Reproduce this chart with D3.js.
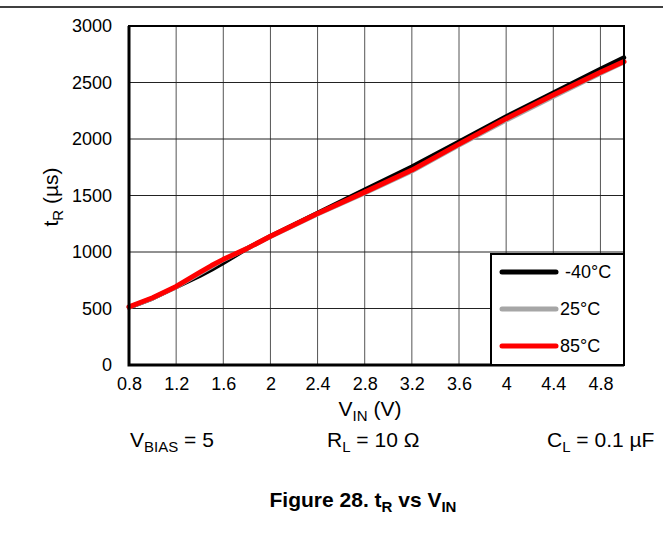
<!DOCTYPE html>
<html>
<head>
<meta charset="utf-8">
<script src="https://cdn.jsdelivr.net/npm/d3@7"></script>
<style>
  body { margin: 0; background: #fff; }
  svg { display: block; font-family: 'Liberation Sans', Arial, sans-serif; }
</style>
</head>
<body>
<svg id="chart" width="663" height="535"></svg>
<script>
// values
const vin = [0.8, 1.0, 1.2, 1.4, 1.5, 1.6, 1.8, 2.0, 2.4, 2.8, 3.2, 3.6, 4.0, 4.4, 4.8, 5.0]
const tRm40 = [510, 590, 690, 790, 845, 905, 1030, 1140, 1345, 1550, 1755, 1975, 2200, 2410, 2620, 2720]
const tR25 = [510, 590, 690, 810, 870, 930, 1030, 1135, 1335, 1520, 1715, 1945, 2165, 2375, 2580, 2680]
const tR85 = [515, 595, 695, 820, 880, 935, 1030, 1140, 1340, 1530, 1725, 1955, 2180, 2390, 2590, 2685]
const xTicks = [0.8, 1.2, 1.6, 2, 2.4, 2.8, 3.2, 3.6, 4, 4.4, 4.8]
const yTicks = [0, 500, 1000, 1500, 2000, 2500, 3000]
const seriesNames = ['-40°C', '25°C', '85°C']
const seriesColors = ['#000000', '#a6a6a6', '#ff0000']

const svg = d3.select('#chart')
const margin = {left: 129, top: 26, right: 624, bottom: 365}

const x = d3.scaleLinear().domain([0.8, 5.0]).range([margin.left, margin.right])
const y = d3.scaleLinear().domain([0, 3000]).range([margin.bottom, margin.top])

// header rule
svg.append('line')
  .attr('x1', 0).attr('x2', 663)
  .attr('y1', 7).attr('y2', 7)
  .attr('stroke', '#000').attr('stroke-width', 1.5)

// grid
svg.append('g')
  .selectAll('line')
  .data(xTicks.slice(1))
  .join('line')
  .attr('x1', (d) => x(d)).attr('x2', (d) => x(d))
  .attr('y1', margin.top).attr('y2', margin.bottom)
  .attr('stroke', '#555').attr('stroke-width', 1)

svg.append('g')
  .selectAll('line')
  .data(yTicks.slice(1, -1))
  .join('line')
  .attr('x1', margin.left).attr('x2', margin.right)
  .attr('y1', (d) => y(d)).attr('y2', (d) => y(d))
  .attr('stroke', '#222').attr('stroke-width', 1)

// axes (labels only)
const xAxis = svg.append('g')
  .attr('transform', `translate(0,${margin.bottom})`)
  .call(d3.axisBottom(x).tickValues(xTicks).tickSize(0).tickPadding(12).tickFormat(d3.format('')))
xAxis.select('.domain').remove()
xAxis.selectAll('text').style('font-size', '18px').attr('fill', '#000')
  .style('font-family', "'Liberation Sans', Arial, sans-serif")

const yAxis = svg.append('g')
  .attr('transform', `translate(${margin.left},0)`)
  .call(d3.axisLeft(y).tickValues(yTicks).tickSize(0).tickPadding(17).tickFormat(d3.format('')))
yAxis.select('.domain').remove()
yAxis.selectAll('text').style('font-size', '18px').attr('fill', '#000')
  .style('font-family', "'Liberation Sans', Arial, sans-serif")

// series
const series = [tRm40, tR25, tR85]
const line = d3.line()
  .x((d, i) => x(vin[i]))
  .y((d) => y(d))

svg.append('g')
  .selectAll('path')
  .data(series)
  .join('path')
  .attr('d', line)
  .attr('fill', 'none')
  .attr('stroke', (d, i) => seriesColors[i])
  .attr('stroke-width', (d, i) => i === 2 ? 5 : 4.5)
  .attr('stroke-linejoin', 'round')
  .attr('stroke-linecap', 'round')

// plot frame
svg.append('rect')
  .attr('x', margin.left).attr('y', margin.top)
  .attr('width', margin.right - margin.left)
  .attr('height', margin.bottom - margin.top)
  .attr('fill', 'none').attr('stroke', '#000').attr('stroke-width', 2)
svg.append('path')
  .attr('d', `M${margin.left},${margin.top}V${margin.bottom}H${margin.right}`)
  .attr('fill', 'none').attr('stroke', '#000').attr('stroke-width', 3)

// legend
const legend = svg.append('g')
legend.append('rect')
  .attr('x', 491).attr('y', 254)
  .attr('width', margin.right - 491).attr('height', margin.bottom - 254)
  .attr('fill', '#fff').attr('stroke', '#000').attr('stroke-width', 2)
const items = legend.selectAll('g.item')
  .data(seriesNames)
  .join('g')
  .attr('class', 'item')
  .attr('transform', (d, i) => `translate(0,${272 + i * 37})`)
items.append('line')
  .attr('x1', 502).attr('x2', 556)
  .attr('stroke', (d, i) => seriesColors[i])
  .attr('stroke-width', 5).attr('stroke-linecap', 'round')
items.append('text')
  .attr('x', (d, i) => i === 0 ? 565 : 560)
  .attr('dy', '0.35em')
  .style('font-size', '18px')
  .text((d) => d)

// axis titles
svg.append('text')
  .attr('transform', 'translate(58,197) rotate(-90)')
  .attr('text-anchor', 'middle')
  .style('font-size', '21px')
  .call((t) => {
    t.append('tspan').text('t')
    t.append('tspan').attr('dy', 5).style('font-size', '15px').text('R')
    t.append('tspan').attr('dy', -5).text(' (µs)')
  })

svg.append('text')
  .attr('x', 370).attr('y', 416)
  .attr('text-anchor', 'middle')
  .style('font-size', '21px')
  .call((t) => {
    t.append('tspan').text('V')
    t.append('tspan').attr('dy', 5).style('font-size', '15px').text('IN')
    t.append('tspan').attr('dy', -5).text(' (V)')
  })

// conditions
const cond = [
  {x: 130, main: 'V', sub: 'BIAS', rest: ' = 5'},
  {x: 327, main: 'R', sub: 'L', rest: ' = 10 Ω'},
  {x: 547, main: 'C', sub: 'L', rest: ' = 0.1 µF'}
]
svg.append('g')
  .selectAll('text')
  .data(cond)
  .join('text')
  .attr('x', (d) => d.x).attr('y', 447)
  .style('font-size', '21px')
  .each(function(d) {
    const t = d3.select(this)
    t.append('tspan').text(d.main)
    t.append('tspan').attr('dy', 5).style('font-size', '15px').text(d.sub)
    t.append('tspan').attr('dy', -5).text(d.rest)
  })

// figure caption
svg.append('text')
  .attr('x', 363).attr('y', 507)
  .attr('text-anchor', 'middle')
  .style('font-size', '21px').style('font-weight', 'bold')
  .call((t) => {
    t.append('tspan').text('Figure 28. t')
    t.append('tspan').attr('dy', 5).style('font-size', '15px').text('R')
    t.append('tspan').attr('dy', -5).text(' vs V')
    t.append('tspan').attr('dy', 5).style('font-size', '15px').text('IN')
  })
</script>
</body>
</html>
